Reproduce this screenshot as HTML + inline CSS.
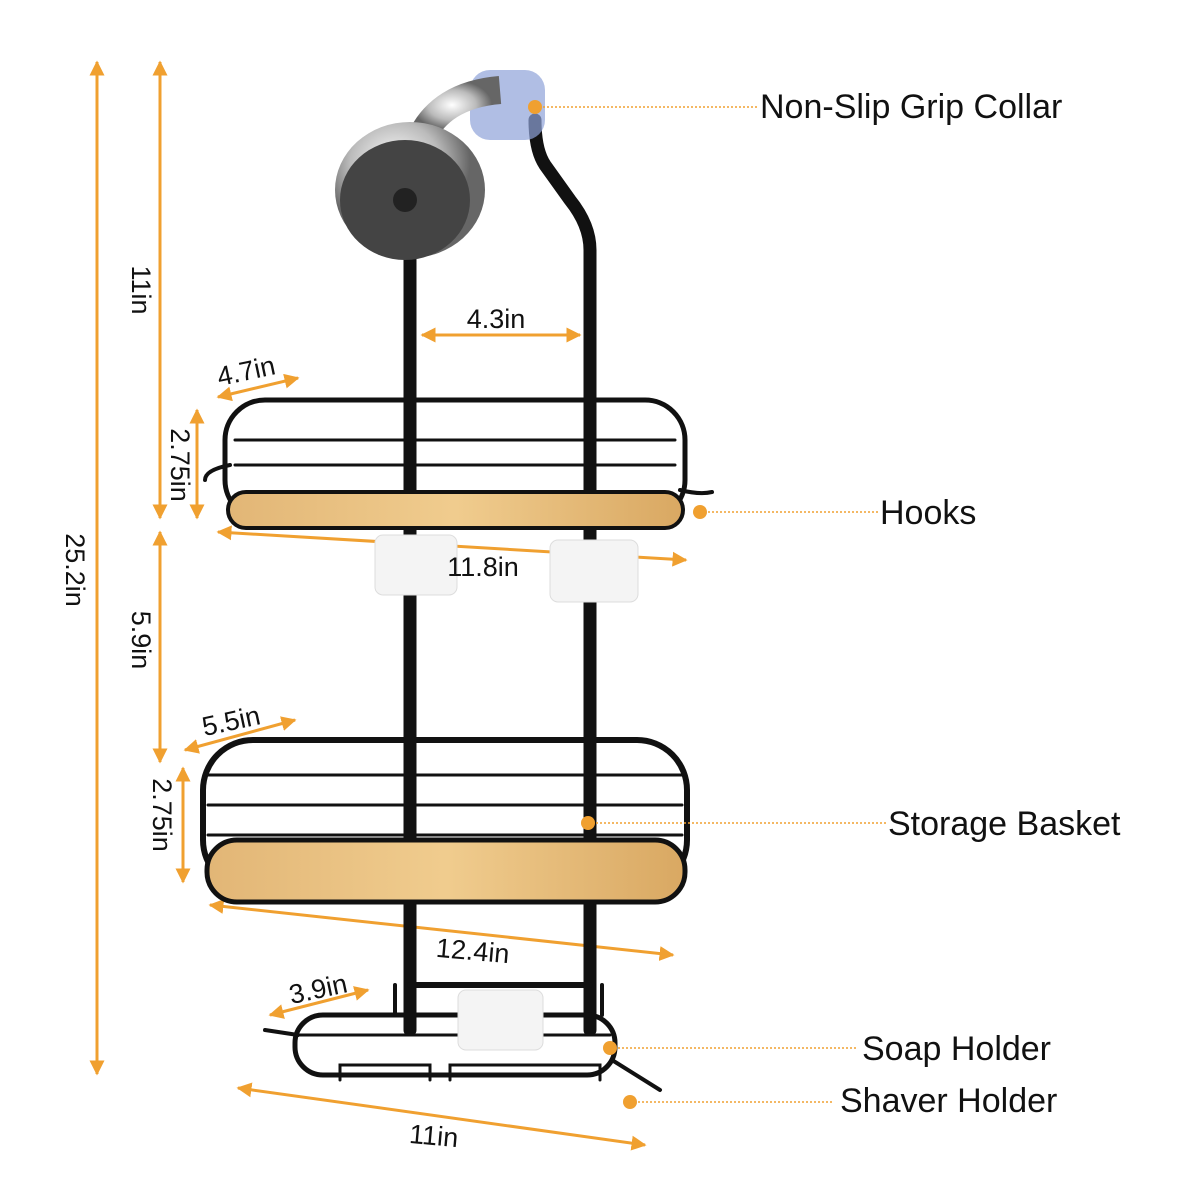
<!DOCTYPE html>
<html><head><meta charset="utf-8"><style>
html,body{margin:0;padding:0;background:#fff;}
svg{display:block;}
text{font-family:"Liberation Sans",sans-serif;fill:#111;}
</style></head><body>
<svg width="1200" height="1200" viewBox="0 0 1200 1200" xmlns="http://www.w3.org/2000/svg">
<defs>
<marker id="a" viewBox="0 0 10 10" refX="9" refY="5" markerWidth="5" markerHeight="5" orient="auto-start-reverse"><path d="M0,0 L10,5 L0,10 z" fill="#f0a030"/></marker>
<linearGradient id="bam" x1="0" x2="1"><stop offset="0" stop-color="#e2b676"/><stop offset="0.5" stop-color="#f0cc8e"/><stop offset="1" stop-color="#d9a862"/></linearGradient>
<radialGradient id="chr" cx="0.4" cy="0.3"><stop offset="0" stop-color="#fff"/><stop offset="0.6" stop-color="#bbb"/><stop offset="1" stop-color="#666"/></radialGradient>
</defs>
<g stroke="#f0a030" stroke-width="3" fill="none" marker-start="url(#a)" marker-end="url(#a)">
<line x1="97" y1="62" x2="97" y2="1074"/>
<line x1="160" y1="62" x2="160" y2="518"/>
<line x1="160" y1="532" x2="160" y2="762"/>
<line x1="197" y1="410" x2="197" y2="518"/>
<line x1="183" y1="768" x2="183" y2="882"/>
<line x1="422" y1="335" x2="580" y2="335"/>
<line x1="218" y1="397" x2="298" y2="378"/>
<line x1="218" y1="532" x2="686" y2="560"/>
<line x1="185" y1="750" x2="295" y2="720"/>
<line x1="210" y1="905" x2="673" y2="955"/>
<line x1="270" y1="1015" x2="368" y2="990"/>
<line x1="238" y1="1088" x2="645" y2="1145"/>
</g>
<g stroke="#111" fill="none" stroke-linecap="round">
<path d="M410 255 V1030" stroke-width="13"/>
<path d="M590 1030 V250 Q590 225 570 200 L545 165 Q535 150 535 120" stroke-width="13"/>
<path d="M410 985 H590" stroke-width="6"/>
<rect x="225" y="400" width="460" height="120" rx="40" stroke-width="5"/>
<path d="M235 440 H675 M235 465 H675" stroke-width="3"/>
<path d="M230 465 Q205 470 205 480 M680 490 Q700 495 712 492" stroke-width="4"/>
<rect x="203" y="740" width="484" height="150" rx="50" stroke-width="6"/>
<path d="M208 775 H682 M208 805 H682 M208 835 H682" stroke-width="3"/>
<rect x="295" y="1015" width="320" height="60" rx="28" stroke-width="5"/>
<path d="M340 1080 V1065 H430 V1080 M450 1080 V1065 H600 V1080 M300 1035 H610" stroke-width="3"/>
<path d="M298 1035 L265 1030 M612 1060 L660 1090 M395 985 V1015 M602 985 V1015" stroke-width="4"/>
</g>
<rect x="228" y="492" width="455" height="36" rx="18" fill="url(#bam)" stroke="#111" stroke-width="4"/>
<rect x="207" y="840" width="478" height="62" rx="30" fill="url(#bam)" stroke="#111" stroke-width="5"/>
<rect x="375" y="535" width="82" height="60" rx="8" fill="#f4f4f4" stroke="#ddd"/>
<rect x="550" y="540" width="88" height="62" rx="8" fill="#f4f4f4" stroke="#ddd"/>
<rect x="458" y="990" width="85" height="60" rx="8" fill="#f4f4f4" stroke="#ddd"/>
<rect x="470" y="70" width="75" height="70" rx="20" fill="#8fa3d9" opacity="0.7"/>
<path d="M420 140 Q440 95 500 90" stroke="url(#chr)" stroke-width="28" fill="none"/>
<ellipse cx="410" cy="190" rx="75" ry="68" fill="url(#chr)"/>
<ellipse cx="405" cy="200" rx="65" ry="60" fill="#444"/>
<circle cx="405" cy="200" r="12" fill="#222"/>
<g stroke="#f0a030" stroke-width="1.5" stroke-dasharray="2,2">
<line x1="535" y1="107" x2="758" y2="107"/>
<line x1="700" y1="512" x2="878" y2="512"/>
<line x1="588" y1="823" x2="886" y2="823"/>
<line x1="610" y1="1048" x2="858" y2="1048"/>
<line x1="630" y1="1102" x2="833" y2="1102"/>
</g>
<g fill="#f0a030">
<circle cx="535" cy="107" r="7"/><circle cx="700" cy="512" r="7"/><circle cx="588" cy="823" r="7"/><circle cx="610" cy="1048" r="7"/><circle cx="630" cy="1102" r="7"/>
</g>
<g font-size="34">
<text x="760" y="118">Non-Slip Grip Collar</text>
<text x="880" y="524">Hooks</text>
<text x="888" y="835">Storage Basket</text>
<text x="862" y="1060">Soap Holder</text>
<text x="840" y="1112">Shaver Holder</text>
</g>
<g font-size="27">
<text transform="translate(66,570) rotate(90)" text-anchor="middle">25.2in</text>
<text transform="translate(132,290) rotate(90)" text-anchor="middle">11in</text>
<text transform="translate(132,640) rotate(90)" text-anchor="middle">5.9in</text>
<text transform="translate(171,465) rotate(90)" text-anchor="middle">2.75in</text>
<text transform="translate(153,815) rotate(90)" text-anchor="middle">2.75in</text>
<text x="496" y="328" text-anchor="middle">4.3in</text>
<text transform="translate(248,380) rotate(-12)" text-anchor="middle">4.7in</text>
<text x="483" y="576" text-anchor="middle">11.8in</text>
<text transform="translate(233,730) rotate(-12)" text-anchor="middle">5.5in</text>
<text transform="translate(472,960) rotate(5)" text-anchor="middle">12.4in</text>
<text transform="translate(320,998) rotate(-12)" text-anchor="middle">3.9in</text>
<text transform="translate(433,1145) rotate(5)" text-anchor="middle">11in</text>
</g>
</svg>
</body></html>
